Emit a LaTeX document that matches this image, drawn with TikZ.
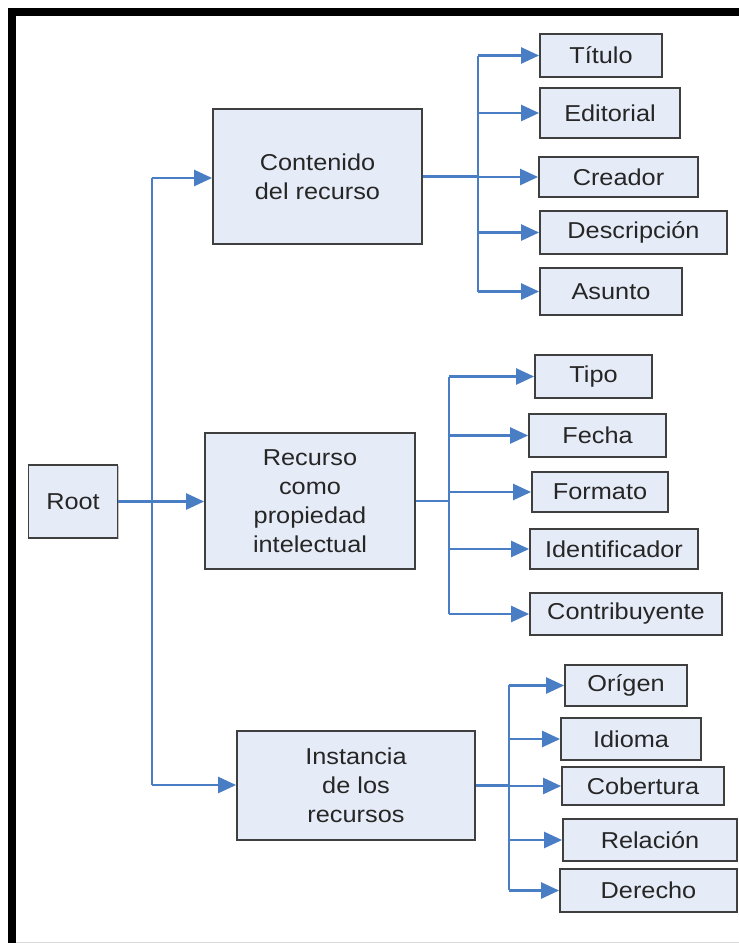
\documentclass[tikz,border=0pt]{standalone}
\usepackage{fontspec}
\setmainfont{Liberation Sans}[FakeStretch=1.1]
\usetikzlibrary{arrows.meta,shadows}
\definecolor{boxfill}{HTML}{E6ECF7}
\definecolor{boxline}{HTML}{3F3F3F}
\definecolor{linkblue}{HTML}{4A7EC4}
\begin{document}
\begin{tikzpicture}[x=1pt,y=-1pt,
  box/.style={draw=boxline, fill=boxfill, line width=1.8pt, inner sep=0pt,
    align=center, text=black!85, font=\fontsize{23}{29}\selectfont,
    drop shadow={shadow xshift=1.2pt, shadow yshift=-1.2pt, fill=black!40, opacity=0.6}},
  link/.style={draw=linkblue, line width=2.5pt},
  arr/.style={link, -{Triangle[length=18pt,width=16pt]}},
]
\useasboundingbox (0,0) rectangle (739,943);

% frame
\draw[black, line width=8pt] (12,943) -- (12,12) -- (739,12);
\draw[black!15, line width=1pt] (16,942) -- (739,942);

% main boxes
\node[box, minimum width=89, minimum height=73] (root) at (73,501.5) {Root};
\node[box, minimum width=209, minimum height=135] (cont) at (317.5,176.5) {Contenido\\del recurso};
\node[box, minimum width=210, minimum height=136] (prop) at (310,501) {Recurso\\como\\propiedad\\intelectual};
\node[box, minimum width=238, minimum height=109] (inst) at (356,785.5) {Instancia\\de los\\recursos};

% contenido del recurso
\node[box, minimum width=122, minimum height=43] (tit) at (601,55.5) {Título};
\node[box, minimum width=140, minimum height=50] (edi) at (610,113) {Editorial};
\node[box, minimum width=159, minimum height=40] (cre) at (618.5,177) {Creador};
\node[box, minimum width=187, minimum height=43] (des) at (633.5,232.5) {Descripción};
\node[box, minimum width=142, minimum height=47] (asu) at (611,291.5) {Asunto};

% propiedad intelectual
\node[box, minimum width=117, minimum height=43] (tip) at (593.5,376.5) {Tipo};
\node[box, minimum width=137, minimum height=43] (fec) at (597.5,435.5) {Fecha};
\node[box, minimum width=136, minimum height=40] (frm) at (600,492) {Formato};
\node[box, minimum width=168, minimum height=40] (ide) at (614,549) {Identificador};
\node[box, minimum width=192, minimum height=42] (con) at (626,614) {Contribuyente};

% instancia
\node[box, minimum width=122, minimum height=41] (ori) at (626,685.5) {Orígen};
\node[box, minimum width=140, minimum height=42] (idi) at (631,739) {Idioma};
\node[box, minimum width=162, minimum height=38] (cob) at (643,786) {Cobertura};
\node[box, minimum width=174, minimum height=42] (rel) at (650,840) {Relación};
\node[box, minimum width=177, minimum height=43] (der) at (648.5,890.5) {Derecho};

% root connectors
\coordinate (ta) at (152,178);
\coordinate (tb) at (152,785);
\draw[link] (ta) -- (tb);
\draw[arr] (ta) -- (ta -| cont.west);
\draw[arr] (tb) -- (tb -| inst.west);
\draw[arr] (root.east) -- (root.east -| prop.west);

% group 1
\coordinate (g1a) at (478,56);
\coordinate (g1b) at (478,292);
\draw[link] (g1a) -- (g1b);
\draw[link] (cont.east) -- (cont.east -| g1a);
\foreach \n in {tit,edi,cre,des,asu}
  \draw[arr] (g1a |- \n.west) -- (\n.west);

% group 2
\coordinate (g2a) at (449,377);
\coordinate (g2b) at (449,614);
\draw[link] (g2a) -- (g2b);
\draw[link] (prop.east) -- (prop.east -| g2a);
\foreach \n in {tip,fec,frm,ide,con}
  \draw[arr] (g2a |- \n.west) -- (\n.west);

% group 3
\coordinate (g3a) at (509,685);
\coordinate (g3b) at (509,890);
\draw[link] (g3a) -- (g3b);
\draw[link] (inst.east) -- (inst.east -| g3a);
\foreach \n in {ori,idi,cob,rel,der}
  \draw[arr] (g3a |- \n.west) -- (\n.west);
\end{tikzpicture}
\end{document}
